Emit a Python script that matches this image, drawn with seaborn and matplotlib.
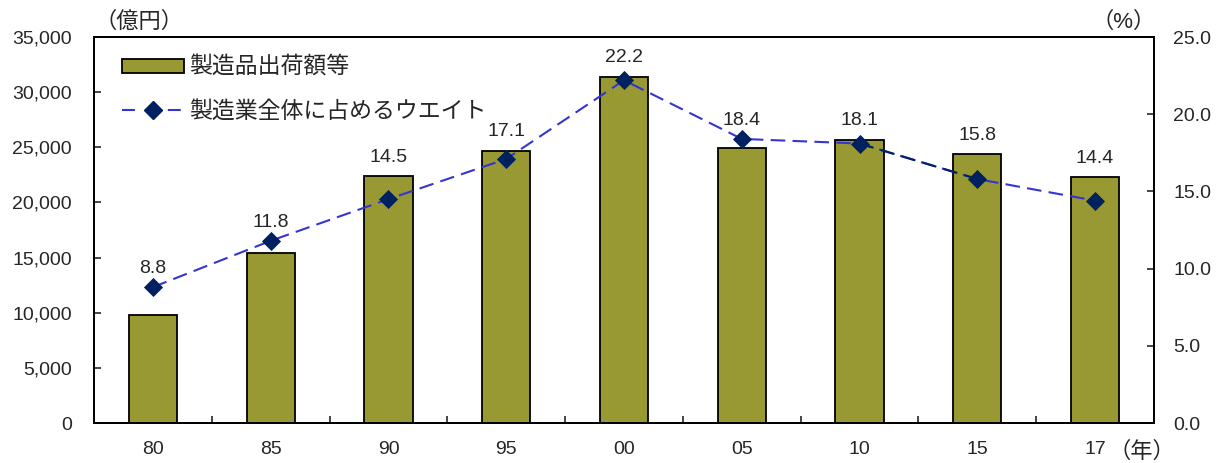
import numpy as np
import matplotlib
matplotlib.use("Agg")
import matplotlib.pyplot as plt
from matplotlib.patches import Patch
from matplotlib.lines import Line2D
from matplotlib.ticker import FuncFormatter, FixedLocator
import seaborn as sns

# Data
years = ["80", "85", "90", "95", "00", "05", "10", "15", "17"]
shipments = [9800, 15400, 22400, 24700, 31400, 24900, 25700, 24400, 22300]  # 億円
weights = [8.8, 11.8, 14.5, 17.1, 22.2, 18.4, 18.1, 15.8, 14.4]  # %
bar_label = "製造品出荷額等"
line_label = "製造業全体に占めるウエイト"

sns.set_style("ticks")
plt.rcParams["font.family"] = ["Liberation Sans", "Noto Sans CJK JP", "DejaVu Sans"]

OLIVE = "#999933"
LINE_BLUE = "#3535CF"
NAVY = "#00215F"

LEFT_MAX, RIGHT_MAX = 35000, 25

W, H = 1216, 463
fig = plt.figure(figsize=(W / 100, H / 100), dpi=100)
ax = fig.add_axes([94 / W, 1 - 423 / H, (1154 - 94) / W, (423 - 37) / H])

sns.barplot(x=years, y=shipments, ax=ax, color=OLIVE, saturation=1,
            edgecolor="black", linewidth=1.3, width=0.41)
ax.set_xlim(-0.5, len(years) - 0.5)
ax.set_ylim(0, LEFT_MAX)
ax.set_yticks(np.arange(0, LEFT_MAX + 1, 5000))
ax.yaxis.set_major_formatter(FuncFormatter(lambda v, p: f"{v:,.0f}"))
ax.set_xlabel("")
ax.set_ylabel("")

# category labels centered, tick marks between categories
ax.xaxis.set_minor_locator(FixedLocator(np.arange(0.5, len(years) - 1, 1.0)))
ax.tick_params(axis="x", which="major", length=0, pad=13, labelsize=14)
ax.tick_params(axis="x", which="minor", direction="in", length=5, width=1.2)
ax.tick_params(axis="y", direction="in", length=5, width=1.2, pad=16, labelsize=14)

for s in ax.spines.values():
    s.set_linewidth(1.4)
    s.set_color("black")

ax2 = ax.twinx()
pos = np.arange(len(years))
DASH = (0, (7, 3.5))
sns.lineplot(x=pos, y=weights, ax=ax2, color=LINE_BLUE, linewidth=1.5,
             linestyle=DASH, errorbar=None, legend=False, zorder=3)
# the 10→15 segment is drawn in navy
ax2.plot(pos[6:8], weights[6:8], color=NAVY, linewidth=1.5,
         linestyle=DASH, zorder=3.5)
sns.scatterplot(x=pos, y=weights, ax=ax2, marker="D", s=95, color=NAVY,
                edgecolor=NAVY, linewidth=0, legend=False, zorder=4)
ax2.set_ylim(0, RIGHT_MAX)
ax2.set_yticks(np.arange(0, RIGHT_MAX + 0.1, 5))
ax2.yaxis.set_major_formatter(FuncFormatter(lambda v, p: f"{v:.1f}"))
ax2.tick_params(axis="y", direction="in", length=5, width=1.2, pad=14, labelsize=14)
ax2.set_ylabel("")
for s in ax2.spines.values():
    s.set_linewidth(1.4)
    s.set_color("black")

# value labels sit above whichever is higher: the marker or the bar top
for x, v, b in zip(pos, weights, shipments):
    anchor = max(v, b / LEFT_MAX * RIGHT_MAX)
    ax2.annotate(f"{v:.1f}", (x, anchor), xytext=(0, 13.5), textcoords="offset points",
                 ha="center", va="center", fontsize=14, zorder=6)

handles = [
    Patch(facecolor=OLIVE, edgecolor="black", linewidth=1.3),
    Line2D([], [], color=LINE_BLUE, linewidth=1.5, linestyle=(0, (6.2, 15.8)),
           marker="D", markersize=9, markerfacecolor=NAVY, markeredgecolor=NAVY),
]
ax2.legend(handles, [bar_label, line_label], loc="upper left",
           bbox_to_anchor=(0.018, 0.975), frameon=False, fontsize=16.5,
           handlelength=2.7, handleheight=0.55, handletextpad=0.2,
           labelspacing=0.9, borderaxespad=0)

fig.text(139 / W, 1 - 22 / H, "（億円）", ha="center", va="center", fontsize=16)
fig.text(1124 / W, 1 - 22 / H, "（%）", ha="center", va="center", fontsize=16)
fig.text(1142 / W, 1 - 452 / H, "（年）", ha="center", va="center", fontsize=16)

fig.savefig("out.png", dpi=100)
